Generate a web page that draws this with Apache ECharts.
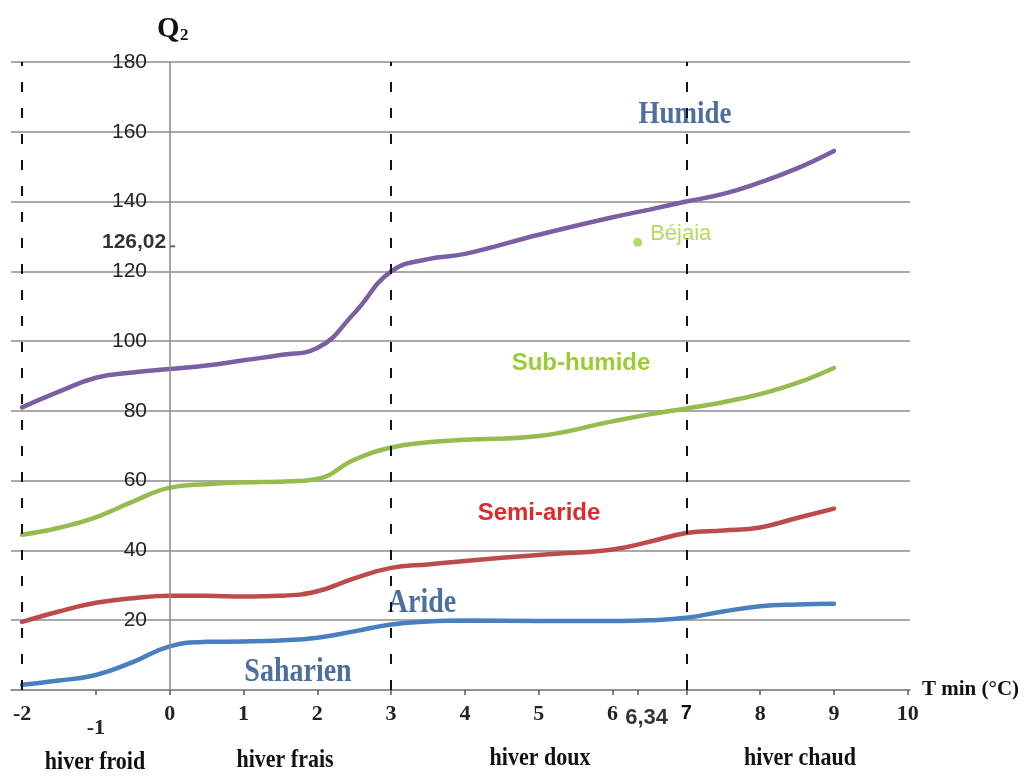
<!DOCTYPE html>
<html>
<head>
<meta charset="utf-8">
<script src="https://cdn.jsdelivr.net/npm/echarts@6/dist/echarts.min.js"></script>
<style>html,body{margin:0;padding:0;background:#fff}#c{width:1032px;height:776px}</style>
</head>
<body>
<div id="c"></div>
<script>
// Tmin (°C) sample positions along the limit curves
var tmin = [-2, -1.5, -1, -0.5, 0, 0.5, 1, 1.5, 2, 2.5, 3, 3.5, 4, 5, 6, 6.5, 7, 7.5, 8, 8.5, 9];
// Q2 limit curves between bioclimatic stages
var humideLimit    = [81, 85.5, 89.5, 91, 92, 93, 94.5, 96, 98, 108, 120, 123.5, 125, 130.5, 135.5, 137.7, 140, 142.2, 145.5, 149.5, 154.5];
var subHumideLimit = [44.5, 46.5, 49.5, 54, 58, 59, 59.5, 59.7, 60.5, 66, 69.5, 71, 71.7, 72.8, 77, 79, 80.7, 82.5, 84.8, 88, 92.3];
var semiAridLimit  = [19.5, 22.5, 25, 26.3, 27, 27, 26.8, 27, 28.3, 32, 35, 36, 37, 38.7, 40.3, 42.5, 45, 45.7, 46.6, 49.3, 52];
var aridLimit      = [1.5, 2.7, 4.3, 8, 12.5, 13.8, 13.9, 14.2, 15, 16.8, 18.8, 19.6, 19.9, 19.8, 19.8, 20, 20.7, 22.5, 24, 24.5, 24.7];
// station
var stationName = 'Béjaia';
var stationTmin = 6.34;
var stationQ2 = 126.02;
// axis ticks
var xTickValues = [-2, -1, 0, 1, 2, 3, 4, 5, 6, 7, 8, 9, 10];
var xTickMarks = [-1, 0, 1, 2, 3, 4, 5, 6, 6.34, 7, 8, 9, 10];
var winterLimits = [-2, 3, 7];
var winterNames = ['hiver froid', 'hiver frais', 'hiver doux', 'hiver chaud'];
var stageNames = ['Humide', 'Sub-humide', 'Semi-aride', 'Aride', 'Saharien'];

function pairs(ys) { return tmin.map(function (x, i) { return [x, ys[i]]; }); }

var serif = '"Liberation Serif", "DejaVu Serif", serif';
var sans = '"Liberation Sans", Arial, sans-serif';

function lineSeries(name, ys, color, extra) {
  var s = {
    name: name, type: 'line', data: pairs(ys), smooth: 0.45, showSymbol: false, symbol: 'none',
    lineStyle: { color: color, width: 4.5, cap: 'round' }, itemStyle: { color: color }, silent: true, z: 3
  };
  if (extra) for (var k in extra) s[k] = extra[k];
  return s;
}

var chart = echarts.init(document.getElementById('c'), null, { renderer: 'canvas' });
var option = {
  backgroundColor: '#ffffff',
  animation: false,
  grid: { left: 11, right: 122, top: 62, bottom: 86, containLabel: false, outerBoundsMode: 'none' },
  xAxis: {
    type: 'value', min: -2.15, max: 10.03,
    name: 'T min (°C)', nameLocation: 'end', nameGap: 12,
    nameTextStyle: { fontFamily: serif, fontWeight: 'bold', fontSize: 21, color: '#111' },
    axisLine: { show: true, onZero: false, lineStyle: { color: '#8a8a8a', width: 1.5 } },
    axisTick: { show: true, customValues: xTickMarks, length: 5, inside: false, lineStyle: { color: '#555', width: 1.5 } },
    axisLabel: {
      customValues: xTickValues, margin: 13,
      formatter: function (v) {
        if (v === -1) return '{low|-1}';
        if (v === 7) return '{b|7}';
        return '{n|' + v + '}';
      },
      rich: {
        n: { fontFamily: serif, fontWeight: 'bold', fontSize: 22, color: '#222' },
        low: { fontFamily: serif, fontWeight: 'bold', fontSize: 22, color: '#222', padding: [14, 0, 0, 0] },
        b: { fontFamily: sans, fontWeight: 'bold', fontSize: 20, color: '#111' }
      }
    },
    splitLine: { show: false }
  },
  yAxis: {
    type: 'value', min: 0, max: 180, interval: 20,
    axisLine: { show: false },
    axisTick: { show: false },
    axisLabel: {
      inside: true, align: 'right', margin: 136, fontFamily: sans, fontSize: 21, color: '#222',
      formatter: function (v) { return v === 0 ? '' : String(v); }
    },
    splitLine: { show: true, lineStyle: { color: '#8c8c8c', width: 1.5 } }
  },
  series: [
    lineSeries('limit-humide', humideLimit, '#7b5fa5', {
      markLine: {
        silent: true, symbol: 'none', animation: false,
        label: { show: false },
        data: winterLimits.map(function (x) {
          return { xAxis: x, lineStyle: { color: '#111', width: 2, type: [10, 16] } };
        }).concat([{ xAxis: 0, lineStyle: { color: '#8a8a8a', width: 1.5, type: 'solid' } }])
      }
    }),
    lineSeries('limit-subhumide', subHumideLimit, '#94bc4e'),
    lineSeries('limit-semiaride', semiAridLimit, '#bd4b4b'),
    lineSeries('limit-aride', aridLimit, '#4a7fbf'),
    {
      name: 'q2-tick', type: 'scatter', silent: true, z: 5,
      data: [[0, stationQ2]], symbol: 'rect', symbolSize: [5, 2], symbolOffset: [3, -4],
      itemStyle: { color: '#444' },
      label: {
        show: true, position: 'left', distance: 4, offset: [0, -4],
        formatter: function () { return String(stationQ2).replace('.', ','); },
        fontFamily: sans, fontWeight: 'bold', fontSize: 21, color: '#000'
      }
    },
    {
      name: 'tmin-mark', type: 'scatter', silent: true, z: 5, clip: false,
      data: [[stationTmin, 0]], symbolSize: 0,
      label: {
        show: true, position: 'bottom', distance: 0, offset: [9, 17],
        formatter: function () { return String(stationTmin).replace('.', ','); },
        fontFamily: '"Liberation Sans Narrow", ' + sans, fontWeight: 'bold', fontSize: 22, color: '#000'
      }
    },
    {
      name: stationName, type: 'scatter', silent: true, z: 6,
      data: [[stationTmin, stationQ2]], symbol: 'circle', symbolSize: 9, symbolOffset: [0, -8],
      itemStyle: { color: '#a3d13a' },
      label: {
        show: true, position: 'right', distance: 8, offset: [0, -8],
        formatter: stationName, fontFamily: sans, fontSize: 22, color: '#a3d13a'
      }
    }
  ],
  graphic: [
    { type: 'text', x: 157, y: 30, style: { text: 'Q', font: 'bold 29px ' + serif, fill: '#111', textVerticalAlign: 'middle' } },
    { type: 'text', x: 180, y: 36, style: { text: '2', font: 'bold 17px ' + serif, fill: '#111', textVerticalAlign: 'middle' } },
    { type: 'text', x: 685, y: 115, scaleY: 1.2, style: { text: stageNames[0], font: 'bold 27px ' + serif, fill: '#4d6f9e', textAlign: 'center', textVerticalAlign: 'middle' } },
    { type: 'text', x: 581, y: 363, style: { text: stageNames[1], font: 'bold 24px ' + sans, fill: '#9acd32', textAlign: 'center', textVerticalAlign: 'middle' } },
    { type: 'text', x: 539, y: 513, style: { text: stageNames[2], font: 'bold 24px ' + sans, fill: '#dd2a2f', textAlign: 'center', textVerticalAlign: 'middle' } },
    { type: 'text', x: 422, y: 603, scaleY: 1.2, style: { text: stageNames[3], font: 'bold 28px ' + serif, fill: '#4d6f9e', textAlign: 'center', textVerticalAlign: 'middle' } },
    { type: 'text', x: 298, y: 672, scaleY: 1.2, style: { text: stageNames[4], font: 'bold 28px ' + serif, fill: '#4d6f9e', textAlign: 'center', textVerticalAlign: 'middle' } },
    { type: 'text', x: 95, y: 762, scaleY: 1.15, style: { text: winterNames[0], font: 'bold 22px ' + serif, fill: '#111', textAlign: 'center', textVerticalAlign: 'middle' } },
    { type: 'text', x: 285, y: 760, scaleY: 1.15, style: { text: winterNames[1], font: 'bold 22px ' + serif, fill: '#111', textAlign: 'center', textVerticalAlign: 'middle' } },
    { type: 'text', x: 540, y: 758, scaleY: 1.15, style: { text: winterNames[2], font: 'bold 22px ' + serif, fill: '#111', textAlign: 'center', textVerticalAlign: 'middle' } },
    { type: 'text', x: 800, y: 758, scaleY: 1.15, style: { text: winterNames[3], font: 'bold 22px ' + serif, fill: '#111', textAlign: 'center', textVerticalAlign: 'middle' } }
  ]
};
chart.setOption(option);
</script>
</body>
</html>
